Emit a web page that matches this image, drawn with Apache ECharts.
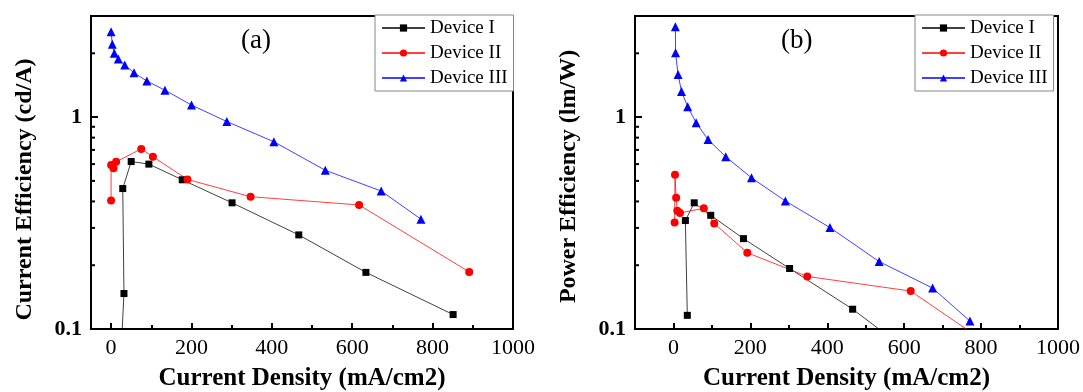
<!DOCTYPE html>
<html>
<head>
<meta charset="utf-8">
<script src="https://cdn.jsdelivr.net/npm/echarts@6/dist/echarts.min.js"></script>
<style>
  html, body { margin: 0; padding: 0; background: #fff; }
  #chart { width: 1083px; height: 392px; }
</style>
</head>
<body>
<div id="chart"></div>
<script>
// panel (a): current efficiency
const ceDev1X = [22, 32, 29, 50, 94, 177, 301, 467, 634, 851];
const ceDev1Y = [0.06, 0.147, 0.46, 0.617, 0.60, 0.506, 0.394, 0.278, 0.185, 0.117];
const ceDev2X = [0, 0, 6, 12.5, 75, 104, 190, 347, 617, 891];
const ceDev2Y = [0.404, 0.595, 0.574, 0.615, 0.708, 0.65, 0.508, 0.421, 0.385, 0.186];
const ceDev3X = [0, 3, 8, 18, 34, 57, 89, 134, 200, 288, 405, 533, 672, 771];
const ceDev3Y = [2.53, 2.21, 2.0, 1.88, 1.76, 1.62, 1.48, 1.34, 1.14, 0.953, 0.765, 0.561, 0.448, 0.33];

// panel (b): power efficiency
const peDev1X = [36, 31, 54, 97, 182, 302, 466, 634, 851];
const peDev1Y = [0.116, 0.325, 0.394, 0.344, 0.267, 0.193, 0.124, 0.073, 0.04];
const peDev2X = [3, 4, 7, 10, 17, 79, 106, 192, 348, 617, 891];
const peDev2Y = [0.318, 0.535, 0.416, 0.361, 0.353, 0.371, 0.315, 0.229, 0.177, 0.151, 0.069];
const peDev3X = [5, 5.5, 12, 21, 37, 59, 90, 136, 203, 291, 407, 535, 674, 771];
const peDev3Y = [2.67, 2.01, 1.59, 1.32, 1.12, 0.94, 0.783, 0.65, 0.517, 0.402, 0.301, 0.208, 0.156, 0.109];

const seriesNames = ['Device I', 'Device II', 'Device III'];
const yMinorTicks = [0.2, 0.3, 0.4, 0.5, 0.6, 0.7, 0.8, 0.9, 2, 3];

const FONT = '"Liberation Serif", "Times New Roman", serif';
const colors = ['#000000', '#ff0000', '#0000ff'];
const symbols = ['rect', 'circle', 'triangle'];
const sizes = [7, 8, 9];
const xMins = [-50, -100];

const pairs = (xs, ys) => xs.map((x, i) => [x, ys[i]]);

function mkSeries(k, xs, ys, axisIdx) {
    return {
        name: seriesNames[k],
        type: 'line',
        xAxisIndex: axisIdx,
        yAxisIndex: axisIdx,
        data: pairs(xs, ys),
        symbol: symbols[k],
        symbolSize: sizes[k],
        clip: true,
        itemStyle: {color: colors[k]},
        lineStyle: {color: colors[k], width: 1, opacity: 0.75}
    };
}

function mkX(grid) {
    return {
        type: 'value',
        gridIndex: grid,
        min: xMins[grid],
        max: 1000,
        splitNumber: 5,
        name: 'Current Density (mA/cm2)',
        nameLocation: 'middle',
        nameGap: 37,
        nameTextStyle: {fontFamily: FONT, fontSize: 25, fontWeight: 'bold', color: '#000'},
        splitLine: {show: false},
        axisLine: {show: true, onZero: false, lineStyle: {color: '#000', width: 2}},
        axisTick: {show: true, inside: true, length: 6, lineStyle: {color: '#000', width: 2}},
        minorTick: {show: true, splitNumber: 2, length: 4, lineStyle: {color: '#000', width: 2}},
        axisLabel: {
            margin: 8, fontFamily: FONT, fontSize: 22, color: '#000',
            formatter: v => (v < 0 ? '' : String(v))
        }
    };
}

function mkY(grid, name, pad) {
    return {
        type: 'log',
        logBase: 10,
        gridIndex: grid,
        min: 0.1,
        max: 3,
        name: name,
        nameLocation: 'middle',
        nameGap: 54,
        nameTextStyle: {fontFamily: FONT, fontSize: 24, fontWeight: 'bold', color: '#000', padding: pad},
        splitLine: {show: false},
        axisLine: {show: true, onZero: false, lineStyle: {color: '#000', width: 2}},
        axisTick: {show: true, inside: true, length: 7, lineStyle: {color: '#000', width: 2}},
        axisLabel: {
            margin: 9, fontFamily: FONT, fontSize: 22, fontWeight: 'bold', color: '#000',
            formatter: v => {
                const e = Math.log10(v);
                return (Math.abs(e - Math.round(e)) < 1e-6 && v <= 1) ? String(+v.toPrecision(3)) : '';
            }
        }
    };
}

function mkLegend(left) {
    return {
        data: seriesNames,
        left: left,
        top: 15,
        orient: 'vertical',
        itemWidth: 43,
        itemHeight: 9,
        itemGap: 5,
        padding: [3, 6, 3, 6],
        backgroundColor: '#fff',
        borderColor: '#888',
        borderWidth: 1,
        textStyle: {fontFamily: FONT, fontSize: 19, color: '#000', lineHeight: 20}
    };
}

const gridBase = {
    top: 16, bottom: 63, show: true, borderColor: '#000', borderWidth: 2,
    backgroundColor: 'transparent', containLabel: false, outerBoundsMode: 'none'
};

const chart = echarts.init(document.getElementById('chart'));
chart.setOption({
    backgroundColor: '#fff',
    animation: false,
    title: [
        {text: '(a)', left: 241, top: 27, padding: 0,
         textStyle: {fontFamily: FONT, fontSize: 27, fontWeight: 'normal', color: '#000'}},
        {text: '(b)', left: 781, top: 27, padding: 0,
         textStyle: {fontFamily: FONT, fontSize: 27, fontWeight: 'normal', color: '#000'}}
    ],
    legend: [mkLegend(375), mkLegend(915)],
    grid: [
        Object.assign({left: 91, width: 422}, gridBase),
        Object.assign({left: 635, width: 423}, gridBase)
    ],
    xAxis: [mkX(0), mkX(1)],
    yAxis: [
        mkY(0, 'Current Efficiency (cd/A)', [0, 34, 0, 0]),
        mkY(1, 'Power Efficiency (lm/W)', [0, 8, 0, 0])
    ],
    series: [
        mkSeries(0, ceDev1X, ceDev1Y, 0),
        mkSeries(1, ceDev2X, ceDev2Y, 0),
        mkSeries(2, ceDev3X, ceDev3Y, 0),
        mkSeries(0, peDev1X, peDev1Y, 1),
        mkSeries(1, peDev2X, peDev2Y, 1),
        mkSeries(2, peDev3X, peDev3Y, 1)
    ]
});

// minor ticks of the log axes, placed through the axis scale
const tickMarks = [];
[0, 1].forEach(g => {
    yMinorTicks.forEach(v => {
        const p = chart.convertToPixel({gridIndex: g}, [xMins[g], v]);
        tickMarks.push({
            type: 'line', silent: true, z: 100,
            shape: {x1: p[0], y1: p[1], x2: p[0] + 4, y2: p[1]},
            style: {stroke: '#000', lineWidth: 2}
        });
    });
});
chart.setOption({graphic: {elements: tickMarks}});
</script>
</body>
</html>
